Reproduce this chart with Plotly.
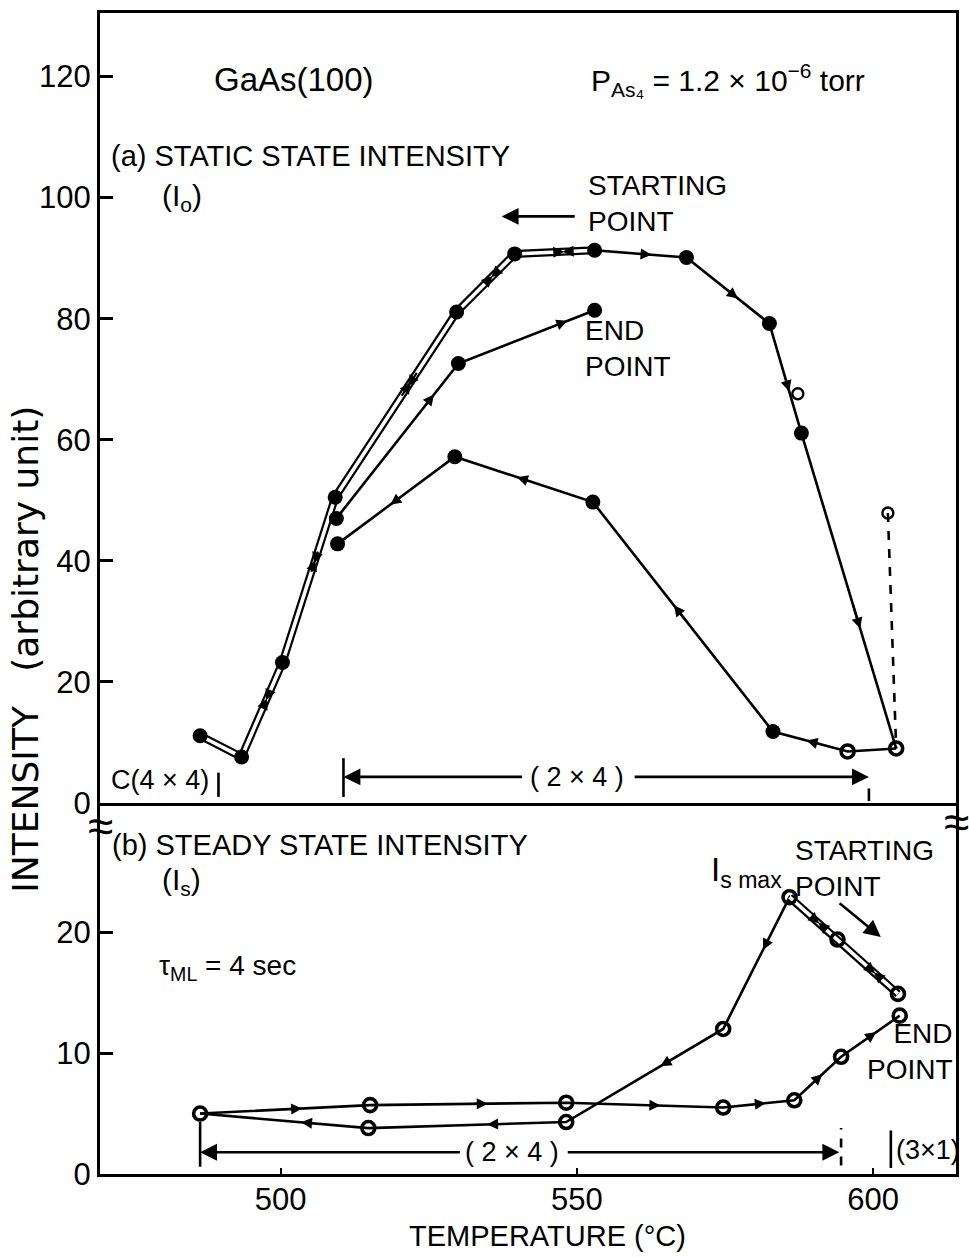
import plotly.graph_objects as go

# ---------------- (a) static state intensity I0  (arbitrary unit) ----------------
# measurement runs in the order they were taken (temperature in °C)
a_cool1_t = [553.0, 539.5, 529.7, 509.2, 500.3, 493.4, 486.4]
a_cool1_i = [91.3, 90.7, 81.1, 50.5, 23.2, 7.6, 11.1]

a_heat1_t = [486.4, 493.4, 500.3, 509.2, 529.7, 539.5, 553.0, 568.5, 582.5, 587.9, 603.9]
a_heat1_i = [11.1, 7.6, 23.2, 50.5, 81.1, 90.7, 91.3, 90.1, 79.2, 61.1, 9.0]

a_cool2_t = [603.9, 595.7, 583.1, 552.7, 529.4, 509.6]
a_cool2_i = [9.0, 8.5, 11.8, 49.7, 57.2, 42.8]

a_heat2_t = [509.4, 530.0, 553.0]
a_heat2_i = [47.0, 72.6, 81.4]

# transient (first-read) values
a_open_t = [587.3, 602.5]
a_open_i = [67.6, 47.9]

# ---------------- (b) steady state intensity Is ----------------
b_heat1_t = [585.9, 594.0, 604.2]
b_heat1_i = [22.9, 19.4, 14.9]

b_cool_t = [604.2, 594.0, 585.9, 574.7, 548.2, 514.8, 486.4]
b_cool_i = [14.9, 19.4, 22.9, 12.0, 4.3, 3.8, 5.0]

b_heat2_t = [486.4, 515.1, 548.2, 574.7, 586.7, 594.6, 604.5]
b_heat2_i = [5.0, 5.7, 5.9, 5.5, 6.1, 9.7, 13.1]

# surface reconstruction boundaries (°C)
a_c44_edge = 489.5
a_24_range = [510.6, 599.3]
b_24_range = [486.4, 594.6]
b_31_edge = 603.0

# axes
x_range = [469.5, 614.0]
x_ticks = [500, 550, 600]
a_range = [0, 130.5]
a_ticks = [0, 20, 40, 60, 80, 100, 120]
b_range = [0, 30.7]
b_ticks = [0, 10, 20]

TXT = "Liberation Sans"
NUM = "Liberation Sans Narrow, Liberation Sans"
INK = "black"

fig = go.Figure()

TOP = dict(xaxis="x2", yaxis="y")
BOT = dict(xaxis="x", yaxis="y2")


def add_line(t, i, ax, width=2.6, color=INK, dash="solid"):
    fig.add_trace(go.Scatter(x=t, y=i, mode="lines", hoverinfo="skip", showlegend=False,
                             line=dict(color=color, width=width, dash=dash), **ax))


def add_double(t, i, ax):
    add_line(t, i, ax, width=8.0)
    add_line(t, i, ax, width=3.6, color="white")


def add_markers(t, i, ax, symbol, size, lw):
    fig.add_trace(go.Scatter(x=t, y=i, mode="markers", hoverinfo="skip", showlegend=False,
                             marker=dict(symbol=symbol, size=size, color=INK,
                                         line=dict(color=INK, width=lw)), **ax))


def run_arrows(t, i, xr, yr, frac):
    for k in range(len(t) - 1):
        dx, dy = t[k + 1] - t[k], i[k + 1] - i[k]
        fig.add_annotation(x=t[k] + frac * dx, y=i[k] + frac * dy,
                           ax=t[k] + (frac - 0.08) * dx, ay=i[k] + (frac - 0.08) * dy,
                           xref=xr, yref=yr, axref=xr, ayref=yr, text="",
                           showarrow=True, arrowhead=2, arrowsize=1.0, arrowwidth=2.2,
                           arrowcolor=INK, standoff=0)


# ---- panel (a) curves
add_line(a_heat1_t, a_heat1_i, TOP)
add_line(a_cool2_t, a_cool2_i, TOP)
add_line(a_heat2_t, a_heat2_i, TOP)
add_double(a_cool1_t, a_cool1_i, TOP)
add_line([a_open_t[1], a_heat1_t[-1]], [a_open_i[1], a_heat1_i[-1]], TOP, width=2.6, dash="dash")

run_arrows(a_cool1_t, a_cool1_i, "x2", "y", 0.40)
run_arrows(a_heat1_t, a_heat1_i, "x2", "y", 0.62)
run_arrows(a_cool2_t, a_cool2_i, "x2", "y", 0.55)
run_arrows(a_heat2_t, a_heat2_i, "x2", "y", 0.80)

# filled points; the two last high-temperature points are drawn as rings
pts = {}
for t, i in (list(zip(a_cool1_t, a_cool1_i)) + list(zip(a_heat1_t, a_heat1_i)) +
             list(zip(a_cool2_t, a_cool2_i)) + list(zip(a_heat2_t, a_heat2_i))):
    pts[(t, i)] = True
rings = list(zip(a_cool2_t[:2], a_cool2_i[:2]))
filled = [p for p in pts if p not in rings]
add_markers([p[0] for p in filled], [p[1] for p in filled], TOP, "circle", 15, 0)
add_markers([p[0] for p in rings], [p[1] for p in rings], TOP, "circle-open", 13, 3.6)
add_markers(a_open_t, a_open_i, TOP, "circle-open", 11, 2.4)

# ---- panel (b) curves
add_line(b_cool_t, b_cool_i, BOT)
add_line(b_heat2_t, b_heat2_i, BOT)
add_double(b_heat1_t, b_heat1_i, BOT)

run_arrows(b_heat1_t, b_heat1_i, "x", "y2", 0.62)
run_arrows(b_cool_t, b_cool_i, "x", "y2", 0.40)
run_arrows(b_heat2_t, b_heat2_i, "x", "y2", 0.60)

bpts = {}
for t, i in (list(zip(b_heat1_t, b_heat1_i)) + list(zip(b_cool_t, b_cool_i)) +
             list(zip(b_heat2_t, b_heat2_i))):
    bpts[(t, i)] = True
add_markers([p[0] for p in bpts], [p[1] for p in bpts], BOT, "circle-open", 13, 3.6)


# ---- text helpers
def label(x, y, text, xr, yr, size=28, xanchor="left", yanchor="middle", align="left",
          angle=0, family=TXT):
    fig.add_annotation(x=x, y=y, xref=xr, yref=yr, text=text, showarrow=False,
                       xanchor=xanchor, yanchor=yanchor, align=align, textangle=angle,
                       font=dict(family=family, size=size, color=INK))


def arrow(x0, y0, x1, y1, xr, yr, width=2.6, size=1.3):
    fig.add_annotation(x=x1, y=y1, ax=x0, ay=y0, xref=xr, yref=yr, axref=xr, ayref=yr,
                       text="", showarrow=True, arrowhead=2, arrowsize=size,
                       arrowwidth=width, arrowcolor=INK, standoff=0)


def vbar(x, y0, y1, xr, yr, dash="solid", width=2.6):
    fig.add_shape(type="line", x0=x, x1=x, y0=y0, y1=y1, xref=xr, yref=yr,
                  line=dict(color=INK, width=width, dash=dash))


# panel (a) labels
label(488.4, 119.5, "GaAs(100)", "x2", "y", size=33)
label(552.0, 119.5, "P<sub>As₄</sub> = 1.2 × 10<sup>−6</sup> torr", "x2", "y", size=30)
label(471.0, 106.9, "(a) STATIC STATE INTENSITY", "x2", "y", size=29)
label(479.6, 100.0, "(I<sub>o</sub>)", "x2", "y", size=30)
label(551.6, 99.0, "STARTING<br>POINT", "x2", "y", size=28)
arrow(549.9, 96.9, 537.3, 96.9, "x2", "y")
label(551.1, 75.1, "END<br>POINT", "x2", "y", size=28)

label(471.0, 3.8, "C(4 × 4)", "x2", "y", size=27)
vbar(a_c44_edge, 1.0, 5.0, "x2", "y")
vbar(a_24_range[0], 1.0, 7.4, "x2", "y")
vbar(a_24_range[1], 0.3, 2.4, "x2", "y")
label(sum(a_24_range) / 2 - 5.0, 4.3, "( 2 × 4 )", "x2", "y", size=27, xanchor="center")
arrow(541.0, 4.3, a_24_range[0], 4.3, "x2", "y")
arrow(559.5, 4.3, a_24_range[1], 4.3, "x2", "y")

# panel (b) labels
label(471.2, 27.2, "(b) STEADY STATE INTENSITY", "x", "y2", size=29)
label(479.6, 24.2, "(I<sub>s</sub>)", "x", "y2", size=30)
label(479.1, 17.1, "τ<sub>ML</sub> = 4 sec", "x", "y2", size=28)
label(585.0, 25.0, "I<sub>s max</sub>", "x", "y2", size=33, xanchor="right")
label(586.5, 25.3, "STARTING<br>POINT", "x", "y2", size=28)
arrow(594.1, 22.5, 601.3, 19.6, "x", "y2")
label(613.8, 10.1, "END<br>POINT", "x", "y2", size=28, xanchor="right", align="right")

vbar(b_24_range[0], 0.6, 4.3, "x", "y2")
vbar(b_24_range[1], 0.7, 3.8, "x", "y2", dash="dash")
label(539.1, 1.8, "( 2 × 4 )", "x", "y2", size=27, xanchor="center")
arrow(530.5, 1.8, b_24_range[0], 1.8, "x", "y2")
arrow(548.2, 1.8, b_24_range[1] - 0.3, 1.8, "x", "y2")
vbar(b_31_edge, 0.5, 3.6, "x", "y2")
label(603.5, 2.0, "(3×1)", "x", "y2", size=27)

# axis titles and break marks
label(-0.087, 0.452, "INTENSITY   (arbitrary unit)", "paper", "paper", size=36,
      xanchor="center", angle=-90, family="DejaVu Sans")
label(0.5227, -0.0534, "TEMPERATURE (°C)", "paper", "paper", size=29, xanchor="center")
label(0.0, 0.300, "≈", "paper", "paper", size=46, xanchor="center")
label(1.0, 0.303, "≈", "paper", "paper", size=46, xanchor="center")

split = 0.3196
axis_common = dict(showgrid=False, zeroline=False, showline=True, linecolor=INK, linewidth=3,
                   tickcolor=INK, tickfont=dict(family=NUM, size=31, color=INK))

fig.update_layout(
    width=969, height=1257,
    margin=dict(l=100, r=10, t=13, b=83),
    paper_bgcolor="white", plot_bgcolor="white",
    showlegend=False,
    xaxis=dict(domain=[0, 1], anchor="y2", range=x_range, tickvals=x_ticks,
               ticks="inside", ticklen=6, tickwidth=2, mirror=False,
               ticklabelstandoff=-4, **axis_common),
    xaxis2=dict(domain=[0, 1], anchor="y", range=x_range, matches="x",
                showticklabels=False, ticks="", mirror=True, **axis_common),
    yaxis=dict(domain=[split, 1], anchor="x2", range=a_range, tickvals=a_ticks,
               ticks="inside", ticklen=13, tickwidth=2.5, mirror=True, **axis_common),
    yaxis2=dict(domain=[0, split], anchor="x", range=b_range, tickvals=b_ticks,
                ticks="inside", ticklen=13, tickwidth=2.5, mirror=True, **axis_common),
)

fig.write_html("out.html")
